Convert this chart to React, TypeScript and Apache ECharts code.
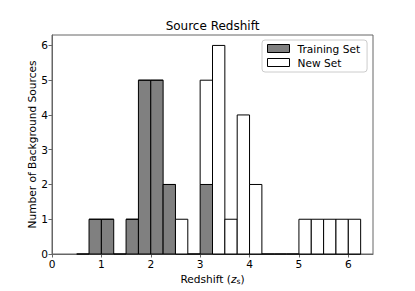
import React, { useEffect, useRef } from "react";
import * as echarts from "echarts";

const binStarts = [0.5, 0.75, 1.0, 1.25, 1.5, 1.75, 2.0, 2.25, 2.5, 2.75, 3.0, 3.25, 3.5, 3.75, 4.0, 4.25, 4.5, 4.75, 5.0, 5.25, 5.5, 5.75, 6.0];
const binWidth = 0.25;
const trainingCounts = [0, 1, 1, 0, 1, 5, 5, 2, 0, 0, 2, 0, 0, 0, 0, 0, 0, 0, 0, 0, 0, 0, 0];
const newCounts = [0, 0, 0, 0, 0, 0, 0, 0, 1, 0, 3, 6, 1, 4, 2, 0, 0, 0, 1, 1, 1, 1, 1];
const xTicks = [0, 1, 2, 3, 4, 5, 6];
const yTicks = [0, 1, 2, 3, 4, 5, 6];
const seriesNames = ["Training Set", "New Set"];
const titleText = "Source Redshift";
const xLabel = "Redshift ({z|z}{s|s})";
const yLabel = "Number of Background Sources";

const FONT = "DejaVu Sans";
const SPINE = "#666";
const FS = 10.6;

function makeRender(fill: string) {
  return (params: any, api: any) => {
    const x0 = api.value(0);
    const x1 = api.value(1);
    const y0 = api.value(2);
    const y1 = api.value(3);
    const p0 = api.coord([x0, y0]);
    const p1 = api.coord([x1, y1]);
    if (y1 === y0) {
      return {
        type: "line",
        shape: { x1: p0[0], y1: p0[1], x2: p1[0], y2: p0[1] },
        style: { stroke: "#000", lineWidth: 1 },
      };
    }
    return {
      type: "rect",
      shape: { x: p0[0], y: p1[1], width: p1[0] - p0[0], height: p0[1] - p1[1] },
      style: { fill, stroke: "#000", lineWidth: 1 },
    };
  };
}

export default function App() {
  const ref = useRef<HTMLDivElement>(null);
  useEffect(() => {
    if (!ref.current) return;
    const chart = echarts.init(ref.current, null, { renderer: "svg" });
    const trainingData = binStarts.map((s, i) => [s, s + binWidth, 0, trainingCounts[i]]);
    const newData = binStarts.map((s, i) => [s, s + binWidth, trainingCounts[i], trainingCounts[i] + newCounts[i]]);
    chart.setOption({
      animation: false,
      backgroundColor: "#fff",
      textStyle: { fontFamily: FONT },
      title: {
        text: titleText,
        left: 212.5,
        textAlign: "center",
        top: 20,
        padding: 0,
        textStyle: { fontFamily: FONT, fontSize: 12, fontWeight: "normal", color: "#000" },
      },
      legend: {
        orient: "vertical",
        left: 262,
        top: 40,
        width: 106,
        padding: [3, 7, 4, 5],
        itemWidth: 22,
        itemHeight: 8,
        itemGap: 3,
        backgroundColor: "rgba(255,255,255,0.8)",
        borderColor: "#ccc",
        borderWidth: 1,
        borderRadius: 3,
        textStyle: { fontFamily: FONT, fontSize: FS, color: "#000", padding: [0, 0, 0, 3] },
        data: [
          { name: seriesNames[0], icon: "rect", itemStyle: { color: "#808080", borderColor: "#000", borderWidth: 1 } },
          { name: seriesNames[1], icon: "rect", itemStyle: { color: "#fff", borderColor: "#000", borderWidth: 1 } },
        ],
      },
      grid: {
        left: 52,
        right: 42,
        top: 35,
        bottom: 37,
        show: true,
        borderColor: SPINE,
        borderWidth: 1,
        backgroundColor: "transparent",
      },
      xAxis: {
        type: "value",
        min: 0,
        max: 6.5,
        splitLine: { show: false },
        axisLine: { show: true, lineStyle: { color: SPINE, width: 1 } },
        axisTick: { show: true, length: 3.5, lineStyle: { color: SPINE }, customValues: xTicks },
        axisLabel: { fontFamily: FONT, fontSize: FS, color: "#000", margin: 4, customValues: xTicks },
        name: xLabel,
        nameLocation: "middle",
        nameGap: 19,
        nameMoveOverlap: false,
        nameTextStyle: {
          fontFamily: FONT,
          fontSize: FS,
          color: "#000",
          rich: {
            z: { fontFamily: FONT, fontSize: FS, fontStyle: "italic", color: "#000" },
            s: { fontFamily: FONT, fontSize: 7.5, color: "#000", verticalAlign: "bottom", padding: [4, 0, 0, 0] },
          },
        },
      },
      yAxis: {
        type: "value",
        min: 0,
        max: 6.3,
        splitLine: { show: false },
        axisLine: { show: true, lineStyle: { color: SPINE, width: 1 } },
        axisTick: { show: true, length: 3.5, lineStyle: { color: SPINE }, customValues: yTicks },
        axisLabel: { fontFamily: FONT, fontSize: FS, color: "#000", margin: 4, customValues: yTicks },
        name: yLabel,
        nameLocation: "middle",
        nameGap: 15,
        nameMoveOverlap: false,
        nameTextStyle: { fontFamily: FONT, fontSize: FS, color: "#000" },
      },
      series: [
        {
          name: seriesNames[0],
          type: "custom",
          renderItem: makeRender("#808080"),
          itemStyle: { color: "#808080", borderColor: "#000" },
          encode: { x: [0, 1], y: [2, 3] },
          data: trainingData,
        },
        {
          name: seriesNames[1],
          type: "custom",
          renderItem: makeRender("#fff"),
          itemStyle: { color: "#fff", borderColor: "#000" },
          encode: { x: [0, 1], y: [2, 3] },
          data: newData,
        },
      ],
    });
    return () => chart.dispose();
  }, []);
  return <div ref={ref} style={{ width: 415, height: 291, position: "absolute", left: 0, top: 0 }} />;
}
